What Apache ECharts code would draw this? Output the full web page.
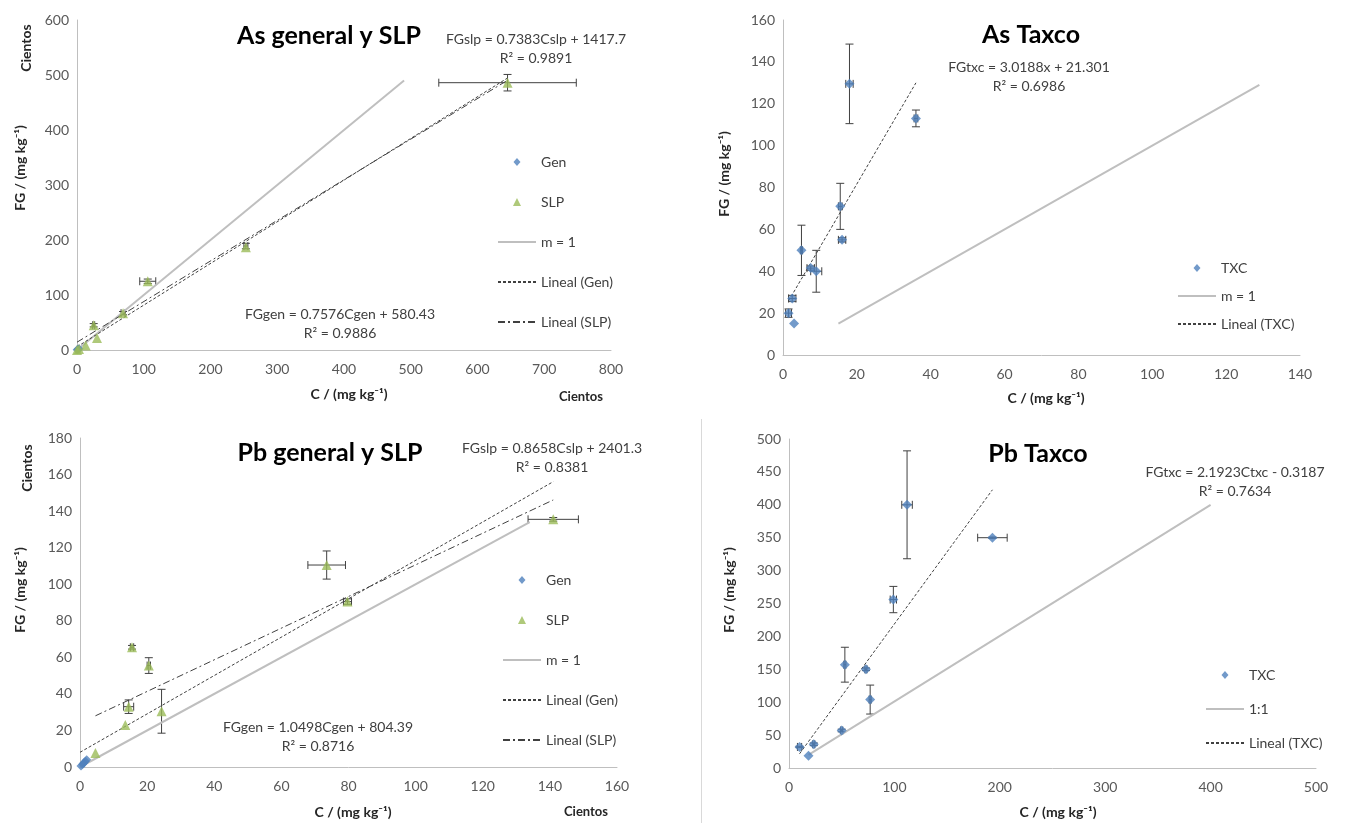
<!DOCTYPE html>
<html>
<head>
<meta charset="utf-8">
<style>
  html, body { margin: 0; padding: 0; background: #fff; }
  #chart { width: 1346px; height: 823px; }
</style>
<script src="https://cdn.jsdelivr.net/npm/echarts@6/dist/echarts.min.js"></script>
</head>
<body>
<div id="chart"></div>
<script>
// ---- As general y SLP (values in cientos) ----
const asGen = [[0.3, 0.4], [1.5, 1.2], [3, 2.2]]
const asSlp = [[0, 0], [3, 2], [13, 8], [30, 22], [25, 45], [69, 67], [106, 125], [253, 187], [645, 486]]
const asSlpErr = [[25, 45, 1.5, 3], [69, 67, 3, 3], [106, 125, 12, 4], [253, 189, 3, 5], [645, 486, 103, 15]]
const asM1 = [[0, 0], [490, 490]]
const asLinGen = [[0, 5.8], [645, 494.5]]
const asLinSlp = [[0, 14.2], [645, 490.4]]

// ---- As Taxco ----
const asTxc = [[1.5, 20], [2.5, 27], [3, 15], [5, 50], [7.5, 41.5], [9, 40], [15.5, 71], [16, 55], [18, 129.5], [36, 113]]
const asTxcErr = [[1.5, 20, 0.8, 2], [2.5, 27, 1, 1.5], [5, 50, 0.3, 12], [7.5, 41.5, 1, 1], [9, 40, 1.5, 10],
  [15.5, 71, 0.5, 11], [16, 55, 1, 1], [18, 129.5, 1, 19], [36, 113, 0.5, 4]]
const asTxcM1 = [[15, 15], [129, 129]]
const asLinTxc = [[1.5, 25.8], [36, 130]]

// ---- Pb general y SLP (values in cientos) ----
const pbGen = [[0.3, 0.5], [0.8, 1.5], [1.2, 2.3], [1.6, 3.2], [2, 3.9]]
const pbSlp = [[4.6, 7.6], [13.5, 23], [14.5, 33], [24.3, 30.5], [20.5, 55.5], [15.5, 65.5], [79.7, 90.5], [73.5, 110.5], [141, 135.5]]
const pbSlpErr = [[14.5, 33, 1.5, 3.7], [24.3, 30.5, 0, 12], [20.5, 55.5, 0.5, 4.3], [15.5, 65.5, 0.5, 1],
  [79.7, 90.5, 1.2, 1.5], [73.5, 110.5, 5.6, 7.7], [141, 135.5, 7.5, 1]]
const pbM1 = [[0, 0], [134, 134]]
const pbLinGen = [[0, 8.04], [141, 156.1]]
const pbLinSlp = [[4.6, 28], [141, 146.1]]

// ---- Pb Taxco ----
const pbTxc = [[10, 32], [18.5, 18.5], [23.5, 36], [50, 57], [53, 157], [73, 150], [77, 104], [99, 256], [112, 400], [193, 350]]
const pbTxcErr = [[10, 32, 2, 1], [23.5, 36, 1, 2], [50, 57, 1, 2], [53, 157, 1, 26.5], [73, 150, 1, 2],
  [77, 104, 1, 22], [99, 256, 3, 20], [112, 400, 5, 82], [193, 350, 14, 1]]
const pbTxcM1 = [[18.5, 20], [400, 400]]
const pbLinTxc = [[10, 21.6], [193, 422.8]]

const FONT = 'Lato, "DejaVu Sans", sans-serif'
const BLUE = '#4F81BD'
const GREEN = '#9BBB59'
const GRAY = '#BFBFBF'
const DARK = '#404040'

// legend marker icons padded to the 38x8 legend box so they are not stretched
const PAD = ' M0,0 L0.01,0 M38,8 L38.01,8'
const ICON_DIAMOND = 'path://M19,0 L22.5,4 L19,8 L15.5,4 Z' + PAD
const ICON_TRIANGLE = 'path://M19,0 L23,8 L15,8 Z' + PAD

const chart = echarts.init(document.getElementById('chart'))

function errorBars(params, api) {
  const x = api.value(0), y = api.value(1), ex = api.value(2), ey = api.value(3)
  const style = { stroke: DARK, lineWidth: 1 }
  const cap = 4
  const kids = []
  const seg = (x1, y1, x2, y2) => kids.push({ type: 'line', shape: { x1, y1, x2, y2 }, style })
  if (ex > 0) {
    const l = api.coord([x - ex, y]), r = api.coord([x + ex, y])
    seg(l[0], l[1], r[0], r[1])
    seg(l[0], l[1] - cap, l[0], l[1] + cap)
    seg(r[0], r[1] - cap, r[0], r[1] + cap)
  }
  if (ey > 0) {
    const t = api.coord([x, y + ey]), b = api.coord([x, y - ey])
    seg(t[0], t[1], b[0], b[1])
    seg(t[0] - cap, t[1], t[0] + cap, t[1])
    seg(b[0] - cap, b[1], b[0] + cap, b[1])
  }
  return { type: 'group', children: kids }
}

function axis(i, min, max, interval, isX) {
  return {
    type: 'value', gridIndex: i, min, max, interval,
    axisLine: { show: true, lineStyle: { color: GRAY, width: 1 } },
    axisTick: { show: false },
    splitLine: { show: false },
    axisLabel: { color: '#595959', fontSize: 14, fontFamily: FONT, margin: isX ? 12 : 8 }
  }
}

function errSeries(i, data) {
  return { type: 'custom', xAxisIndex: i, yAxisIndex: i, data, renderItem: errorBars,
    encode: { x: 0, y: 1 }, z: 2, silent: true }
}
function scat(i, name, data, symbol, color, size) {
  return { type: 'scatter', name, xAxisIndex: i, yAxisIndex: i, data, symbol, symbolSize: size,
    itemStyle: { color }, z: 4 }
}
function line(i, name, data, color, type, width) {
  return { type: 'line', name, xAxisIndex: i, yAxisIndex: i, data, showSymbol: false, symbol: 'none',
    itemStyle: { color, opacity: 0 }, lineStyle: { color, type, width }, z: 3, silent: true }
}
// legend entries: markers keep their shape, line entries show only the line
function mk(name, icon) { return { name, icon } }
function ln(name) { return { name, itemStyle: { opacity: 0 } } }
function legend(items, left, top, gap) {
  return { data: items, orient: 'vertical', left, top, itemWidth: 38, itemHeight: 8, itemGap: gap,
    textStyle: { color: '#404040', fontSize: 14, fontFamily: FONT }, selectedMode: false }
}
function txt(text, x, y, size, bold, rot) {
  return { type: 'text', x, y, rotation: rot ? Math.PI / 2 : 0,
    style: { text, fill: bold ? '#262626' : '#404040', fontSize: size, fontWeight: bold ? 'bold' : 'normal',
      fontFamily: FONT, align: 'center', verticalAlign: 'middle' } }
}
function ttl(text, x, y) {
  return { text, left: x, top: y - 14, textAlign: 'center',
    textStyle: { fontSize: 25, fontWeight: 'bold', color: '#000', fontFamily: FONT } }
}

const DASH = [3, 2]
const DASHDOT = [7, 3, 2, 3]
const unit = 'C / (mg kg\u207B\u00B9)'
const yunit = 'FG / (mg kg\u207B\u00B9)'

chart.setOption({
  animation: false,
  grid: [
    { left: 77, top: 20, width: 534, height: 330 },
    { left: 783, top: 20, width: 517, height: 335 },
    { left: 80, top: 438, width: 537, height: 329 },
    { left: 789, top: 439, width: 527, height: 329 }
  ],
  xAxis: [axis(0, 0, 800, 100, true), axis(1, 0, 140, 20, true), axis(2, 0, 160, 20, true), axis(3, 0, 500, 100, true)],
  yAxis: [axis(0, 0, 600, 100), axis(1, 0, 160, 20), axis(2, 0, 180, 20), axis(3, 0, 500, 50)],
  title: [
    ttl('As general y SLP', 324, 32),
    ttl('As Taxco', 1026, 31),
    ttl('Pb general y SLP', 325, 449),
    ttl('Pb Taxco', 1033, 450)
  ],
  legend: [
    legend([mk('Gen', ICON_DIAMOND), mk('SLP', ICON_TRIANGLE), ln('m = 1'), ln('Lineal (Gen)'), ln('Lineal (SLP)')], 492, 150, 26),
    legend([mk('TXC', ICON_DIAMOND), ln('m = 1'), ln('Lineal (TXC)')], 1172, 256, 14),
    legend([mk('Gen', ICON_DIAMOND), mk('SLP', ICON_TRIANGLE), ln('m = 1'), ln('Lineal (Gen)'), ln('Lineal (SLP)')], 497, 568, 26),
    legend([mk('TXC', ICON_DIAMOND), ln('1:1'), ln('Lineal (TXC)')], 1200, 663, 20)
  ],
  graphic: [
    { type: 'line', shape: { x1: 701.5, y1: 419, x2: 701.5, y2: 823 }, style: { stroke: '#D9D9D9', lineWidth: 1 } },
    txt('FGslp = 0.7383Cslp + 1417.7', 536, 39, 14),
    txt('R\u00B2 = 0.9891', 536, 58, 14),
    txt('FGgen = 0.7576Cgen + 580.43', 340, 314, 14),
    txt('R\u00B2 = 0.9886', 340, 333, 14),
    txt(yunit, 20, 168, 14, true, true),
    txt('Cientos', 26, 48, 14, true, true),
    txt(unit, 349, 394, 14, true),
    txt('Cientos', 581, 397, 13, true),

    txt('FGtxc = 3.0188x + 21.301', 1029, 67, 14),
    txt('R\u00B2 = 0.6986', 1029, 86, 14),
    txt(yunit, 724, 174, 14, true, true),
    txt(unit, 1046, 398, 14, true),

    txt('FGslp = 0.8658Cslp + 2401.3', 552, 448, 14),
    txt('R\u00B2 = 0.8381', 552, 467, 14),
    txt('FGgen = 1.0498Cgen + 804.39', 318, 727, 14),
    txt('R\u00B2 = 0.8716', 318, 746, 14),
    txt(yunit, 20, 590, 14, true, true),
    txt('Cientos', 27, 468, 14, true, true),
    txt(unit, 353, 812, 14, true),
    txt('Cientos', 586, 812, 13, true),

    txt('FGtxc = 2.1923Ctxc - 0.3187', 1235, 472, 14),
    txt('R\u00B2 = 0.7634', 1235, 491, 14),
    txt(yunit, 729, 590, 14, true, true),
    txt(unit, 1058, 812, 14, true)
  ],
  series: [
    errSeries(0, asSlpErr),
    line(0, 'm = 1', asM1, GRAY, 'solid', 2),
    line(0, 'Lineal (Gen)', asLinGen, DARK, DASH, 1),
    line(0, 'Lineal (SLP)', asLinSlp, DARK, DASHDOT, 1),
    scat(0, 'Gen', asGen, 'diamond', BLUE, 9),
    scat(0, 'SLP', asSlp, 'triangle', GREEN, 10),

    errSeries(1, asTxcErr),
    line(1, 'm = 1', asTxcM1, GRAY, 'solid', 2),
    line(1, 'Lineal (TXC)', asLinTxc, DARK, DASH, 1),
    scat(1, 'TXC', asTxc, 'diamond', BLUE, 10),

    errSeries(2, pbSlpErr),
    line(2, 'm = 1', pbM1, GRAY, 'solid', 2),
    line(2, 'Lineal (Gen)', pbLinGen, DARK, DASH, 1),
    line(2, 'Lineal (SLP)', pbLinSlp, DARK, DASHDOT, 1),
    scat(2, 'Gen', pbGen, 'diamond', BLUE, 9),
    scat(2, 'SLP', pbSlp, 'triangle', GREEN, 10),

    errSeries(3, pbTxcErr),
    line(3, '1:1', pbTxcM1, GRAY, 'solid', 2),
    line(3, 'Lineal (TXC)', pbLinTxc, DARK, DASH, 1),
    scat(3, 'TXC', pbTxc, 'diamond', BLUE, 10)
  ]
})
</script>
</body>
</html>
